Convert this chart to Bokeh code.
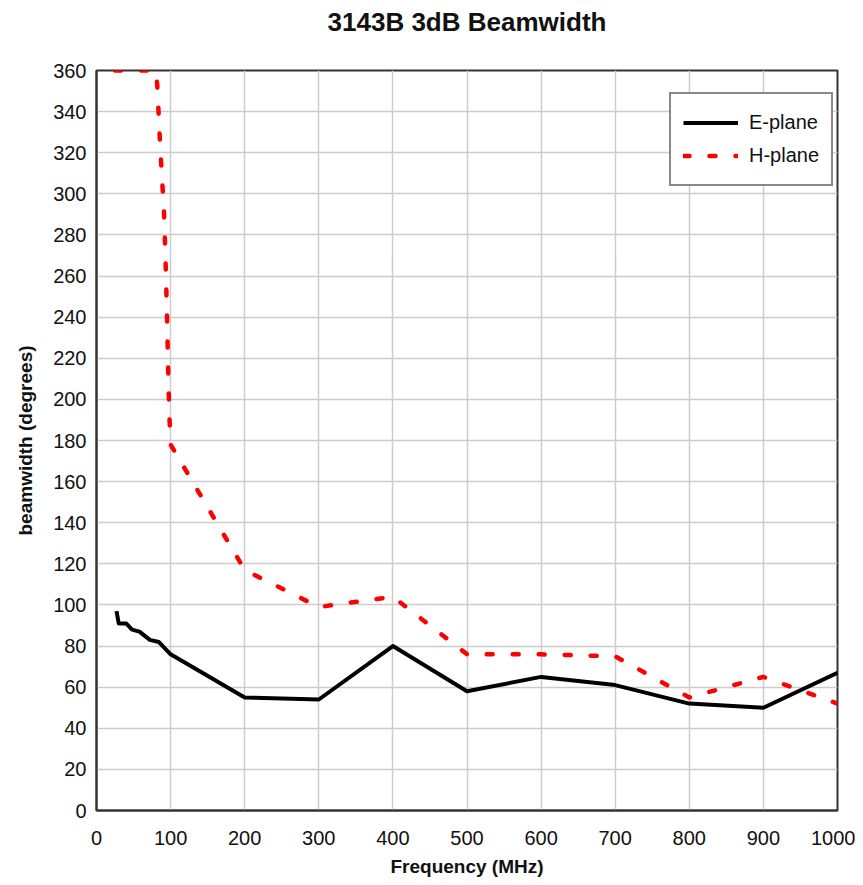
from bokeh.plotting import figure
from bokeh.models import Legend, LegendItem, Range1d, FixedTicker, Title
from bokeh.embed import file_html
from bokeh.resources import INLINE

# ---- data ----
e_freq = [27, 30, 40, 48, 58, 72, 84, 100, 200, 300, 400, 500, 600, 700, 800, 900, 1000]
e_bw = [97, 91, 91, 88, 87, 83, 82, 76, 55, 54, 80, 58, 65, 61, 52, 50, 67]

h_freq = [25, 80, 82, 85, 88, 91, 93, 95, 97, 98.5, 100, 200, 300, 400, 500, 600, 700, 800, 900, 1000]
h_bw = [360, 360, 353, 330, 310, 292, 270, 243, 210, 191, 178, 117, 99, 104, 76, 76, 75, 55, 65, 52]

x_ticks = [0, 100, 200, 300, 400, 500, 600, 700, 800, 900, 1000]
y_ticks = list(range(0, 361, 20))

title_text = "3143B 3dB Beamwidth"
x_label = "Frequency (MHz)"
y_label = "beamwidth (degrees)"
FONT = "Liberation Sans"

p = figure(width=855, height=880, output_backend="svg", toolbar_location=None,
           x_range=Range1d(0, 1000), y_range=Range1d(0, 360),
           min_border_left=96, min_border_right=18, min_border_top=70, min_border_bottom=70)

p.title.text = title_text
p.title.align = "center"
p.title.vertical_align = "bottom"
p.title.text_font = FONT
p.title.text_font_size = "26px"
p.title.text_font_style = "bold"
p.title.text_color = "#111111"
p.title.standoff = 0

# empty spacer between the frame and the title
spacer = Title(text=" ", text_font=FONT, text_font_size="26px", standoff=2)
p.add_layout(spacer, "above")

for ax, ticks in ((p.xaxis[0], x_ticks), (p.yaxis[0], y_ticks)):
    ax.ticker = FixedTicker(ticks=ticks)
    ax.major_tick_out = 0
    ax.major_tick_in = 0
    ax.minor_tick_out = 0
    ax.minor_tick_in = 0
    ax.axis_line_color = "#333333"
    ax.axis_line_width = 2
    ax.major_label_text_font = FONT
    ax.major_label_text_font_size = "20px"
    ax.major_label_text_color = "#111111"
    ax.axis_label_text_font = FONT
    ax.axis_label_text_font_size = "19px"
    ax.axis_label_text_font_style = "bold"
    ax.axis_label_text_color = "#111111"

p.xaxis.axis_label = x_label
p.yaxis.axis_label = y_label
p.xaxis.major_label_standoff = 20
p.xaxis.axis_label_standoff = 8
p.yaxis.major_label_standoff = 10
p.yaxis.axis_label_standoff = 14

p.xgrid.ticker = FixedTicker(ticks=x_ticks)
p.ygrid.ticker = FixedTicker(ticks=y_ticks)
p.grid.grid_line_color = "#cccccc"
p.grid.grid_line_width = 1.5

p.outline_line_color = "#333333"
p.outline_line_width = 2
p.background_fill_color = "white"
p.border_fill_color = "white"

r_e = p.line(e_freq, e_bw, line_color="black", line_width=4, line_join="round")
r_h = p.line(h_freq, h_bw, line_color="#ff0000", line_width=4.5, line_dash="6 20",
             line_cap="round", line_join="round")

legend = Legend(items=[LegendItem(label="E-plane", renderers=[r_e]),
                       LegendItem(label="H-plane", renderers=[r_h])],
                location=(573, 624), orientation="vertical")
legend.label_text_font = FONT
legend.label_text_font_size = "20px"
legend.label_text_color = "#111111"
legend.glyph_width = 55
legend.glyph_height = 33
legend.label_height = 33
legend.label_standoff = 11
legend.spacing = 0
legend.padding = 12
legend.margin = 0
legend.border_line_color = "#111111"
legend.border_line_width = 2
legend.background_fill_alpha = 1
p.add_layout(legend, "center")

open("out.html", "w").write(file_html(p, INLINE))
